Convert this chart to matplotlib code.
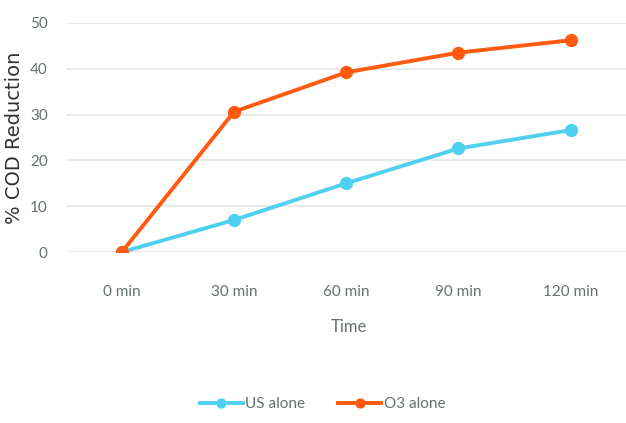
import matplotlib.pyplot as plt
import numpy as np

# tempos de contato e redução de DQO (%) para cada tratamento
tempos = ["0 min", "30 min", "60 min", "90 min", "120 min"]
us_sozinho = [0, 7.0, 15.0, 22.6, 26.6]
o3_sozinho = [0, 30.6, 39.2, 43.5, 46.2]

azul = "#4fd0f0"
laranja = "#ff5a0f"
cinza = "#66706f"

plt.rcParams['font.family'] = ['Lato', 'DejaVu Sans']

fig = plt.figure(figsize=(6.26, 4.23), dpi=100)
ax = fig.add_axes([0.105, 0.404, 0.905, 0.542])

x = np.arange(len(tempos))
ax.plot(x, us_sozinho, color=azul, lw=2.8, marker='o', ms=8.5, label="US alone")
ax.plot(x, o3_sozinho, color=laranja, lw=2.8, marker='o', ms=8.5, label="O3 alone")

ax.set_xlim(-0.5, len(tempos) - 0.45)
ax.set_ylim(0, 50)
ax.set_yticks(range(0, 51, 10))
ax.set_xticks(x)
ax.set_xticklabels(tempos)
ax.yaxis.grid(True, color="#e4e8e8", lw=1.2)
ax.set_axisbelow(True)
for s in ax.spines.values():
    s.set_visible(False)
ax.tick_params(length=0, labelsize=11, labelcolor=cinza)
ax.tick_params(axis='x', pad=24)
ax.tick_params(axis='y', pad=13)

ax.set_xlabel("Time", fontsize=12, color=cinza, labelpad=14)
ax.set_ylabel("% COD Reduction", fontsize=14, color="#2e3333",
              family=['DejaVu Sans'])
ax.yaxis.set_label_coords(-0.074, 0.5)

fig.legend(loc='lower center', bbox_to_anchor=(0.515, -0.005), ncol=2,
           frameon=False, fontsize=11, labelcolor=cinza, markerscale=0.75,
           handlelength=2.8, columnspacing=2.2, handletextpad=0.15)

fig.savefig("out.png", dpi=100)
